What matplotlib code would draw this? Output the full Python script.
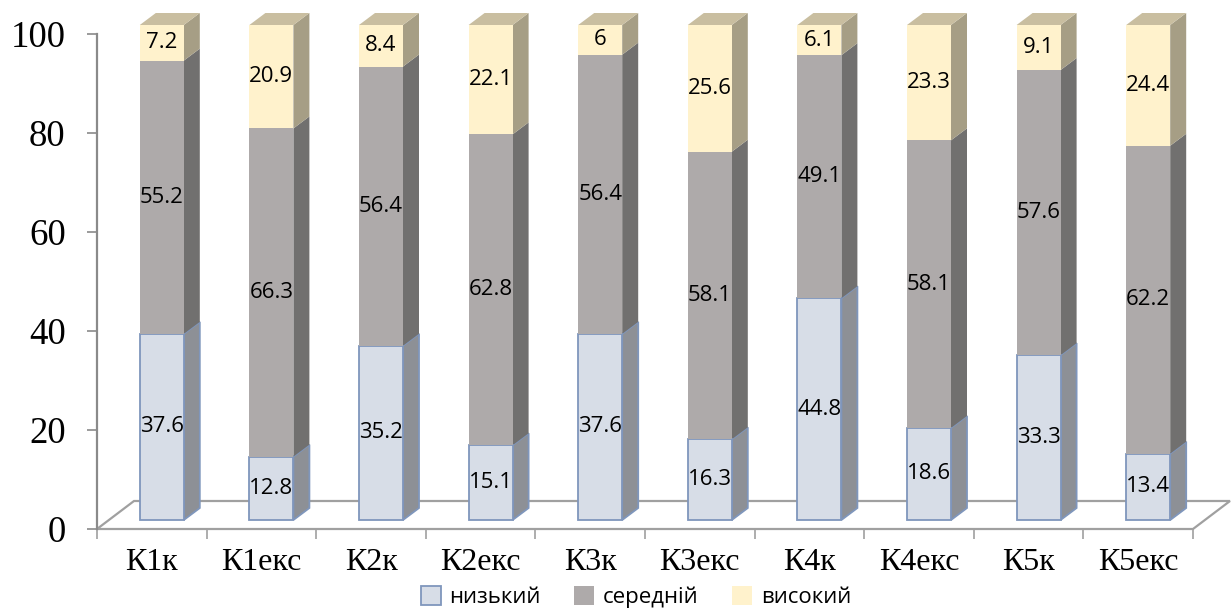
import matplotlib
matplotlib.use("Agg")
import matplotlib.pyplot as plt
from matplotlib.patches import Polygon, Rectangle, Patch

categories = ["К1к", "К1екс", "К2к", "К2екс", "К3к", "К3екс", "К4к", "К4екс", "К5к", "К5екс"]
series_names = ["низький", "середній", "високий"]
low = [37.6, 12.8, 35.2, 15.1, 37.6, 16.3, 44.8, 18.6, 33.3, 13.4]
mid = [55.2, 66.3, 56.4, 62.8, 56.4, 58.1, 49.1, 58.1, 57.6, 62.2]
high = [7.2, 20.9, 8.4, 22.1, 6.0, 25.6, 6.1, 23.3, 9.1, 24.4]
yticks = [0, 20, 40, 60, 80, 100]

front_colors = ["#D7DDE7", "#AEAAAA", "#FFF2CC"]
side_colors = ["#8D9096", "#71706F", "#A69E85"]
top_color = "#C9BEA0"
edge_colors = ["#7F96BC", "none", "none"]

W, H = 1232, 608
fig = plt.figure(figsize=(W / 100, H / 100), dpi=100)
# axes frame in pixels: x 97..1193, y 34..529
px_l, px_r, px_t, px_b = 97, 1193, 34, 529
ax = fig.add_axes([px_l / W, 1 - px_b / H, (px_r - px_l) / W, (px_b - px_t) / H])
ax.set_xlim(-0.5, len(categories) - 0.5)
ax.set_ylim(0, 100)
sx = len(categories) / (px_r - px_l)   # data units per px (x)
sy = 100 / (px_b - px_t)               # data units per px (y)

# floor
fdx, fdy = 37 * sx, 28 * sy
x_lo, x_hi = -0.5, len(categories) - 0.5
floor = Polygon([(x_lo, 0), (x_hi, 0), (x_hi + fdx, fdy), (x_lo + fdx, fdy)],
                closed=True, facecolor="white", edgecolor="#A0A0A0", lw=1.6,
                clip_on=False, zorder=1)
ax.add_patch(floor)

bw = 44 * sx
fx, fy = 10 * sx, 9 * sy
ddx, ddy = 16 * sx, 12 * sy

data = [low, mid, high]
for i in range(len(categories)):
    base = 0.0
    for s, vals in enumerate(data):
        v = vals[i]
        x0 = i - bw / 2 + fx
        x1 = x0 + bw
        y0 = base + fy
        y1 = y0 + v
        ec = edge_colors[s]
        lw = 1.3 if ec != "none" else 0
        ax.add_patch(Polygon([(x1, y0), (x1 + ddx, y0 + ddy), (x1 + ddx, y1 + ddy), (x1, y1)],
                             closed=True, facecolor=side_colors[s], edgecolor=ec, lw=lw,
                             clip_on=False, zorder=3, joinstyle="miter"))
        if s == len(data) - 1:
            ax.add_patch(Polygon([(x0, y1), (x1, y1), (x1 + ddx, y1 + ddy), (x0 + ddx, y1 + ddy)],
                                 closed=True, facecolor=top_color, edgecolor="none",
                                 clip_on=False, zorder=3))
        ax.add_patch(Rectangle((x0, y0), bw, v, facecolor=front_colors[s], edgecolor=ec, lw=lw,
                               clip_on=False, zorder=4))
        ax.text(i + fx, y0 + v / 2, f"{v:g}", ha="center", va="center",
                fontsize=16, family="Open Sans", color="black", zorder=6)
        base += v

# axes styling
for sp in ["top", "right", "bottom"]:
    ax.spines[sp].set_visible(False)
ax.spines["left"].set_color("#8A8A8A")
ax.spines["left"].set_linewidth(1.6)
ax.set_yticks(yticks)
ax.set_yticklabels([str(t) for t in yticks], family="Liberation Serif", fontsize=26.5)
ax.tick_params(axis="y", length=7.5, width=1.2, color="#8A8A8A", pad=15)

ax.set_xticks([i - 0.5 for i in range(len(categories) + 1)])
ax.set_xticklabels([""] * (len(categories) + 1))
ax.tick_params(axis="x", which="major", length=7, width=1.2, color="#A0A0A0", direction="out")
ax.set_xticks(range(len(categories)), minor=True)
ax.set_xticklabels(categories, minor=True, family="Liberation Serif", fontsize=23)
ax.tick_params(axis="x", which="minor", length=0, pad=14)

handles = [Patch(facecolor=front_colors[k], edgecolor=(edge_colors[k] if edge_colors[k] != "none" else front_colors[k]),
                 lw=1.3 if k == 0 else 0) for k in range(3)]
fig.legend(handles, series_names, loc="center", bbox_to_anchor=(636 / W, 1 - 597 / H), ncol=3,
           frameon=False, prop={"family": "Open Sans", "size": 16},
           handlelength=0.9, handleheight=0.9, handletextpad=0.4, columnspacing=1.5)

fig.savefig("out.png", dpi=100)
